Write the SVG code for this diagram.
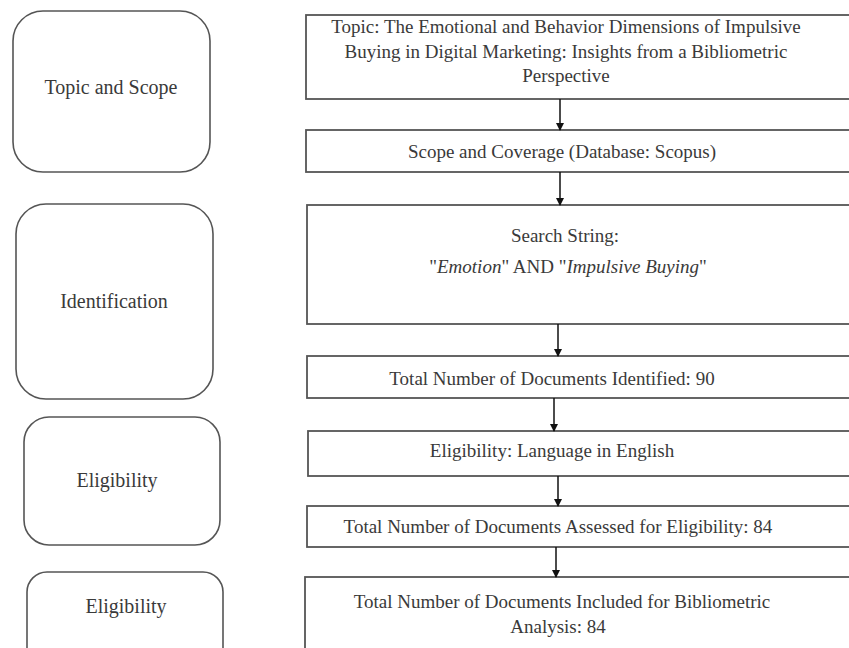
<svg xmlns="http://www.w3.org/2000/svg" width="849" height="648" viewBox="0 0 849 648">
<style>
.stage{fill:#fff;stroke:#555;stroke-width:1.6}
.box{fill:#fff;stroke:#555;stroke-width:1.8}
.t{font-family:"Liberation Serif","Times New Roman",serif;font-size:19px;fill:#3a3a3a;text-anchor:middle}
.ts{font-family:"Liberation Serif","Times New Roman",serif;font-size:20px;fill:#3a3a3a;text-anchor:middle}
.conn line{stroke:#111;stroke-width:1.5}
</style>
<defs>
<marker id="ah" markerWidth="8" markerHeight="8" refX="7" refY="4" orient="auto" markerUnits="userSpaceOnUse">
<path d="M0,0 L8,4 L0,8 Z" fill="#111"/>
</marker>
</defs>
<rect width="849" height="648" fill="#fff"/>

<g id="stage-topic">
<rect class="stage" x="13" y="11" width="197" height="161" rx="30" ry="30"/>
<text class="ts" x="111" y="94">Topic and Scope</text>
</g>
<g id="stage-identification">
<rect class="stage" x="16" y="204" width="197" height="195" rx="30" ry="30"/>
<text class="ts" x="114" y="308">Identification</text>
</g>
<g id="stage-eligibility1">
<rect class="stage" x="24" y="417" width="196" height="128" rx="25" ry="25"/>
<text class="ts" x="117" y="487">Eligibility</text>
</g>
<g id="stage-eligibility2">
<rect class="stage" x="27" y="572" width="196" height="100" rx="20" ry="20"/>
<text class="ts" x="126" y="613">Eligibility</text>
</g>

<g id="box-topic">
<rect class="box" x="306" y="15" width="560" height="84"/>
<text class="t" x="566" y="33">Topic: The Emotional and Behavior Dimensions of Impulsive</text>
<text class="t" x="566" y="58">Buying in Digital Marketing: Insights from a Bibliometric</text>
<text class="t" x="566" y="82">Perspective</text>
</g>
<g id="box-scope">
<rect class="box" x="306" y="130" width="560" height="42"/>
<text class="t" x="562" y="158">Scope and Coverage (Database: Scopus)</text>
</g>
<g id="box-search">
<rect class="box" x="307" y="205" width="560" height="119"/>
<text class="t" x="565" y="242">Search String:</text>
<text class="t" x="568" y="273">"<tspan font-style="italic">Emotion</tspan>" AND "<tspan font-style="italic">Impulsive Buying</tspan>"</text>
</g>
<g id="box-identified">
<rect class="box" x="307" y="356" width="560" height="42"/>
<text class="t" x="552" y="385">Total Number of Documents Identified: 90</text>
</g>
<g id="box-language">
<rect class="box" x="308" y="431" width="560" height="45"/>
<text class="t" x="552" y="457">Eligibility: Language in English</text>
</g>
<g id="box-assessed">
<rect class="box" x="307" y="506" width="560" height="41"/>
<text class="t" x="558" y="533">Total Number of Documents Assessed for Eligibility: 84</text>
</g>
<g id="box-included">
<rect class="box" x="305" y="577" width="560" height="100"/>
<text class="t" x="562" y="608">Total Number of Documents Included for Bibliometric</text>
<text class="t" x="558" y="633">Analysis: 84</text>
</g>

<g id="connectors" class="conn">
<line x1="560" y1="99" x2="560" y2="130" marker-end="url(#ah)"/>
<line x1="560" y1="172" x2="560" y2="205" marker-end="url(#ah)"/>
<line x1="558" y1="324" x2="558" y2="356" marker-end="url(#ah)"/>
<line x1="554" y1="398" x2="554" y2="431" marker-end="url(#ah)"/>
<line x1="558" y1="476" x2="558" y2="506" marker-end="url(#ah)"/>
<line x1="556" y1="547" x2="556" y2="577" marker-end="url(#ah)"/>
</g>
</svg>
